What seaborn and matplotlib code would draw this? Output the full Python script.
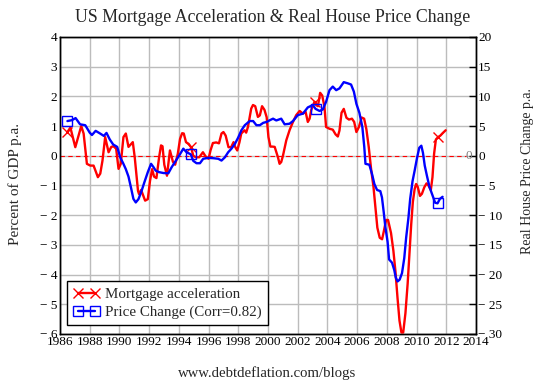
import numpy as np
import pandas as pd
import matplotlib
matplotlib.use("Agg")
import matplotlib.pyplot as plt
import seaborn as sns
from matplotlib.lines import Line2D

# ---------------- data ----------------
mort_years = [1986.50, 1986.70, 1987.03, 1987.43, 1987.59, 1987.81, 1988.04, 1988.26, 1988.55, 1988.71,
              1988.86, 1989.04, 1989.27, 1989.45, 1989.60, 1989.78, 1989.94, 1990.09, 1990.27, 1990.43,
              1990.61, 1990.90, 1991.03, 1991.14, 1991.25, 1991.32, 1991.46, 1991.73, 1991.91, 1992.06,
              1992.20, 1992.33, 1992.49, 1992.67, 1992.80, 1992.90, 1993.02, 1993.20, 1993.40, 1993.60,
              1993.75, 1993.93, 1994.08, 1994.22, 1994.33, 1994.48, 1994.66, 1994.82, 1994.97, 1995.15,
              1995.37, 1995.62, 1995.80, 1996.00, 1996.13, 1996.29, 1996.51, 1996.70, 1996.87, 1997.00,
              1997.15, 1997.34, 1997.52, 1997.68, 1997.79, 1997.93, 1998.08, 1998.20, 1998.42, 1998.53,
              1998.65, 1998.87, 1998.99, 1999.14, 1999.32, 1999.45, 1999.60, 1999.76, 1999.91, 2000.03,
              2000.16, 2000.31, 2000.45, 2000.67, 2000.78, 2000.89, 2001.01, 2001.23, 2001.45, 2001.68,
              2001.90, 2002.13, 2002.35, 2002.53, 2002.68, 2002.80, 2002.91, 2003.13, 2003.24, 2003.36,
              2003.51, 2003.65, 2003.80, 2003.91, 2004.14, 2004.36, 2004.55, 2004.70, 2004.81, 2004.95,
              2005.10, 2005.28, 2005.45, 2005.65, 2005.80, 2005.95, 2006.12, 2006.30, 2006.47, 2006.62,
              2006.78, 2006.94, 2007.10, 2007.23, 2007.36, 2007.52, 2007.68, 2007.80, 2007.95, 2008.08,
              2008.28, 2008.44, 2008.58, 2008.72, 2008.85, 2008.98, 2009.10, 2009.25, 2009.40, 2009.52,
              2009.64, 2009.75, 2009.87, 2009.97, 2010.08, 2010.23, 2010.36, 2010.52, 2010.67, 2010.80,
              2010.96, 2011.07, 2011.18, 2011.30, 2011.45, 2011.60, 2011.75, 2011.96]
mort_accel = [0.80, 0.95, 0.29, 1.00, 0.75, -0.27, -0.33, -0.33, -0.72, -0.60,
              -0.16, 0.63, 0.12, 0.30, 0.32, 0.24, -0.44, -0.27, 0.63, 0.75,
              0.30, 0.46, -0.05, -0.61, -1.18, -1.29, -1.15, -1.51, -1.46, -0.84,
              -0.45, -0.70, -0.75, -0.05, 0.35, 0.32, -0.30, -0.67, 0.18, -0.20,
              -0.30, 0.07, 0.57, 0.76, 0.75, 0.46, 0.40, 0.29, 0.00, -0.05,
              -0.05, 0.12, -0.02, -0.10, 0.18, 0.43, 0.45, 0.42, 0.75, 0.80,
              0.68, 0.29, 0.29, 0.46, 0.30, 0.18, 0.46, 0.75, 0.86, 0.78,
              0.97, 1.59, 1.71, 1.67, 1.31, 1.36, 1.67, 1.55, 1.30, 0.63,
              0.31, 0.31, 0.30, -0.05, -0.27, -0.21, 0.01, 0.52, 0.86, 1.14,
              1.37, 1.51, 1.42, 1.48, 1.14, 1.25, 1.54, 1.82, 1.71, 1.67,
              2.12, 2.03, 1.65, 0.97, 0.91, 0.88, 0.72, 0.65, 0.85, 1.45,
              1.58, 1.28, 1.22, 1.25, 1.14, 0.80, 0.97, 1.29, 1.25, 0.90,
              0.30, -0.45, -1.05, -1.75, -2.42, -2.76, -2.81, -2.53, -2.16, -2.16,
              -2.60, -3.20, -3.90, -4.80, -5.55, -5.95, -5.95, -5.30, -4.30, -3.30,
              -2.30, -1.55, -1.12, -0.95, -1.05, -1.35, -1.28, -1.06, -0.93, -1.00,
              -1.15, -0.72, 0.07, 0.55, 0.63, 0.68, 0.76, 0.86]

price_years = [1986.50, 1986.80, 1987.05, 1987.35, 1987.70, 1988.00, 1988.15, 1988.40, 1988.70, 1988.95,
               1989.13, 1989.35, 1989.58, 1989.85, 1990.05, 1990.25, 1990.43, 1990.61, 1990.79, 1990.94,
               1991.10, 1991.28, 1991.46, 1991.68, 1991.91, 1992.13, 1992.29, 1992.44, 1992.67, 1992.96,
               1993.29, 1993.52, 1993.74, 1994.01, 1994.30, 1994.52, 1994.80, 1994.97, 1995.19, 1995.42,
               1995.64, 1995.98, 1996.31, 1996.65, 1996.87, 1997.10, 1997.32, 1997.54, 1997.77, 1997.99,
               1998.21, 1998.44, 1998.77, 1999.00, 1999.22, 1999.45, 1999.68, 1999.91, 2000.13, 2000.34,
               2000.56, 2000.89, 2001.12, 2001.45, 2001.68, 2002.01, 2002.35, 2002.68, 2003.02, 2003.20,
               2003.47, 2003.69, 2003.91, 2004.14, 2004.36, 2004.59, 2004.81, 2005.10, 2005.37, 2005.59,
               2005.78, 2005.95, 2006.15, 2006.35, 2006.48, 2006.56, 2006.82, 2007.00, 2007.16, 2007.34,
               2007.56, 2007.67, 2007.79, 2007.90, 2008.05, 2008.15, 2008.35, 2008.50, 2008.60, 2008.72,
               2008.86, 2009.02, 2009.17, 2009.30, 2009.45, 2009.57, 2009.73, 2009.87, 2010.02, 2010.18,
               2010.32, 2010.43, 2010.55, 2010.70, 2010.87, 2011.05, 2011.25, 2011.41, 2011.57, 2011.75]
price_change = [5.85, 6.0, 6.35, 5.3, 5.15, 3.9, 3.5, 4.2, 3.75, 3.35,
                3.85, 2.75, 1.9, 1.5, -0.25, -1.25, -2.25, -3.5, -5.5, -7.25,
                -7.85, -7.3, -6.15, -4.45, -2.75, -1.35, -1.9, -2.5, -2.75, -2.9,
                -2.95, -1.9, -1.05, 0.0, 1.2, 0.6, 0.25, -0.85, -1.25, -1.25,
                -0.5, -0.35, -0.4, -0.5, -0.8, -0.25, 0.6, 1.2, 2.0, 3.05,
                4.3, 5.15, 5.85, 5.85, 5.15, 5.15, 5.55, 5.7, 6.0, 6.25,
                5.95, 6.25, 5.3, 5.4, 5.85, 6.85, 7.1, 8.15, 8.55, 7.9,
                7.55, 7.8, 9.1, 11.05, 11.65, 11.05, 11.35, 12.4, 12.2, 12.0,
                10.8, 8.75, 7.25, 4.85, 1.5, -1.35, -1.5, -3.05, -4.75, -5.75,
                -5.95, -7.0, -9.5, -12.0, -14.5, -17.45, -18.0, -19.25, -20.5, -21.15,
                -20.85, -19.75, -17.25, -13.75, -10.5, -7.25, -4.25, -2.5, -0.5, 1.35,
                1.7, 0.5, -1.65, -3.4, -5.25, -6.5, -7.9, -8.0, -7.25, -6.9]

left_ticks = [4, 3, 2, 1, 0, -1, -2, -3, -4, -5, -6]
right_ticks = [20, 15, 10, 5, 0, -5, -10, -15, -20, -25, -30]
year_ticks = list(range(1986, 2015, 2))
labels = ["Mortgage acceleration", "Price Change (Corr=0.82)"]
marker_years = [1986.5, 1994.8, 2003.15, 2011.45]


def fmt(v):
    return str(v) if v >= 0 else "\u2212 " + str(-v)


# ---------------- style ----------------
sns.set_theme(style="white")
plt.rcParams["font.family"] = ["Liberation Serif", "DejaVu Serif"]
plt.rcParams["axes.unicode_minus"] = True

fig = plt.figure(figsize=(5.44, 3.85), dpi=100)
W, H = 544, 385
ax = fig.add_axes([60 / W, 1 - 334 / H, 416 / W, 297 / H])
ax2 = ax.twinx()

red = "#ff0000"
blue = "#0000ff"

mdf = pd.DataFrame({"year": mort_years, "val": mort_accel})
pdf = pd.DataFrame({"year": price_years, "val": price_change})

m_idx = [int(np.argmin(np.abs(np.array(mort_years) - y))) for y in marker_years]
p_idx = [int(np.argmin(np.abs(np.array(price_years) - y))) for y in marker_years]

ax.axhline(0, color=red, lw=0.8, ls=(0, (4, 3)), xmax=0.975, zorder=1)

sns.lineplot(data=mdf, x="year", y="val", ax=ax, color=red, lw=1.7,
             marker="x", markevery=m_idx, ms=7, markeredgecolor=red, mew=1.0,
             estimator=None, sort=False, zorder=3)
sns.lineplot(data=pdf, x="year", y="val", ax=ax2, color=blue, lw=1.7,
             marker="s", markevery=p_idx, ms=7, markerfacecolor="none",
             markeredgecolor=blue, mew=1.0, estimator=None, sort=False, zorder=3)

ax.set_xlim(1986, 2014)
ax.set_ylim(-6, 4)
ax2.set_ylim(-30, 20)
ax.set_xticks(year_ticks)
ax.set_xticklabels([str(y) for y in year_ticks])
ax.set_yticks(left_ticks)
ax.set_yticklabels([fmt(v) for v in left_ticks])
ax2.set_yticks(right_ticks)
ax2.set_yticklabels([fmt(v) for v in right_ticks])
ax.set_xlabel("")
ax.set_ylabel("")
ax2.set_ylabel("")

ax.grid(True, color="#bcbcbc", lw=1.0)
ax.set_axisbelow(True)
ax2.grid(False)

tfs = 9.5
ax.tick_params(axis="x", length=0, pad=1.5, labelsize=tfs, colors="black")
ax.tick_params(axis="y", length=0, pad=2.0, labelsize=tfs, colors="black")
ax2.tick_params(axis="y", direction="in", length=5, width=1, color="black",
                pad=1.5, labelsize=tfs, labelcolor="black", right=True)

for a in (ax, ax2):
    for s in a.spines.values():
        s.set_color("black")
        s.set_linewidth(1.0)
        s.set_visible(True)

ax2.text(0.983, 0.6, "0", transform=ax2.transAxes, fontsize=tfs, color="#808080",
         ha="center", va="center")

h1 = Line2D([], [], color=red, lw=1.7, marker="x", ms=7, mec=red, mew=1.0)
h2 = Line2D([], [], color=blue, lw=1.7, marker="s", ms=7, mfc="none", mec=blue, mew=1.0)
if ax.get_legend():
    ax.get_legend().remove()
leg = ax2.legend([h1, h2], labels, loc="lower left", bbox_to_anchor=(0.018, 0.03),
                 numpoints=2, frameon=True, fancybox=False, edgecolor="black",
                 framealpha=1, fontsize=10.8, borderaxespad=0, handlelength=1.75,
                 borderpad=0.4, labelspacing=0.3, handletextpad=0.35)
leg.get_frame().set_linewidth(1.0)

fig.text(273 / W, 1 - 18 / H, "US Mortgage Acceleration & Real House Price Change",
         ha="center", va="center", fontsize=12.8)
fig.text(15 / W, 1 - 184 / H, "Percent of GDP p.a.", rotation=90,
         ha="center", va="center", fontsize=11)
fig.text(527 / W, 1 - 171 / H, "Real House Price Change p.a.", rotation=90,
         ha="center", va="center", fontsize=10)
fig.text(267 / W, 1 - 373 / H, "www.debtdeflation.com/blogs",
         ha="center", va="center", fontsize=10.6)

fig.savefig("out.png", dpi=100, facecolor="white")
